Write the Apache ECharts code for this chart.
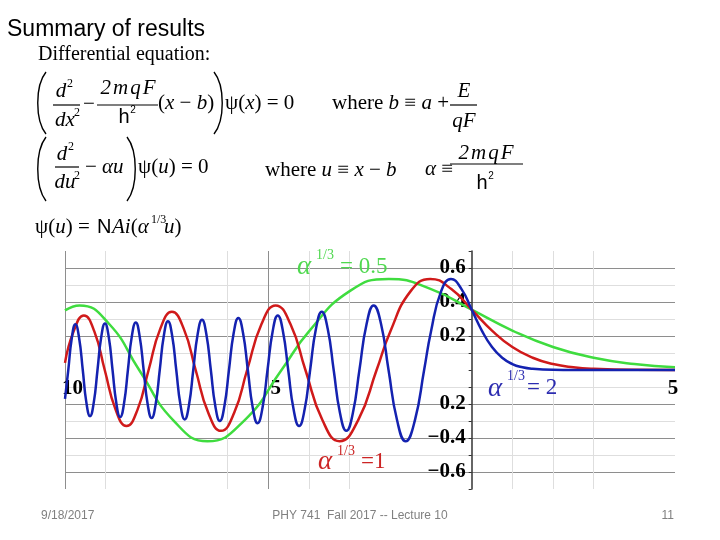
<!DOCTYPE html>
<html>
<head>
<meta charset="utf-8">
<script src="https://cdn.jsdelivr.net/npm/echarts@6/dist/echarts.min.js"></script>
<style>
html,body{margin:0;padding:0;background:#fff;}
#chart{width:720px;height:540px;}
</style>
</head>
<body>
<div id="chart"></div>
<script>
// ---- data: psi(u) for three values of alpha^(1/3) ----
const greenData = [ // alpha^(1/3) = 0.5
  [-10, 0.351], [-9.64, 0.380], [-8.908, 0.269], [-8.176, 0], [-7.336, -0.296], [-6.496, -0.419],
  [-5.586, -0.296], [-4.676, 0], [-4, 0.227], [-3, 0.464], [-2.038, 0.536], [-1, 0.476], [0, 0.355],
  [1, 0.232], [2, 0.135], [3, 0.072], [4, 0.035], [5, 0.016]
];
const redData = [ // alpha^(1/3) = 1
  [-10, 0.042], [-9.788, 0.227], [-9.535, 0.321], [-9.279, 0.227], [-9.023, 0], [-8.756, -0.233],
  [-8.489, -0.330], [-8.216, -0.233], [-7.944, 0], [-7.658, 0.242], [-7.372, 0.342], [-7.079, 0.242],
  [-6.787, 0], [-6.475, -0.253], [-6.163, -0.358], [-5.842, -0.253], [-5.521, 0], [-5.170, 0.269],
  [-4.820, 0.380], [-4.454, 0.269], [-4.088, 0], [-3.668, -0.296], [-3.248, -0.419], [-2.793, -0.296],
  [-2.338, 0], [-2, 0.227], [-1.5, 0.464], [-1.019, 0.536], [-0.5, 0.476], [0, 0.355], [0.5, 0.232],
  [1, 0.135], [1.5, 0.072], [2, 0.035], [2.5, 0.016], [3, 0.007], [4, 0.001], [5, 0]
];
const blueData = [ // alpha^(1/3) = 2
  [-10, -0.17], [-9.919, 0], [-9.832, 0.190], [-9.745, 0.269], [-9.654, 0.190], [-9.563, 0],
  [-9.474, -0.192], [-9.384, -0.271], [-9.293, -0.192], [-9.201, 0], [-9.109, 0.194], [-9.017, 0.274],
  [-8.924, 0.194], [-8.831, 0], [-8.737, -0.196], [-8.643, -0.277], [-8.548, -0.196], [-8.453, 0],
  [-8.357, 0.198], [-8.260, 0.280], [-8.164, 0.198], [-8.066, 0], [-7.968, -0.200], [-7.869, -0.283],
  [-7.770, -0.200], [-7.670, 0], [-7.569, 0.203], [-7.468, 0.287], [-7.366, 0.203], [-7.264, 0],
  [-7.160, -0.206], [-7.056, -0.291], [-6.951, -0.206], [-6.846, 0], [-6.739, 0.209], [-6.631, 0.295],
  [-6.523, 0.209], [-6.414, 0], [-6.304, -0.212], [-6.192, -0.300], [-6.080, -0.212], [-5.968, 0],
  [-5.853, 0.216], [-5.738, 0.306], [-5.621, 0.216], [-5.504, 0], [-5.384, -0.221], [-5.264, -0.313],
  [-5.142, -0.221], [-5.020, 0], [-4.894, 0.227], [-4.768, 0.321], [-4.640, 0.227], [-4.511, 0],
  [-4.378, -0.233], [-4.244, -0.330], [-4.108, -0.233], [-3.972, 0], [-3.829, 0.242], [-3.686, 0.342],
  [-3.540, 0.242], [-3.393, 0], [-3.238, -0.253], [-3.082, -0.358], [-2.921, -0.253], [-2.760, 0],
  [-2.585, 0.269], [-2.410, 0.380], [-2.227, 0.269], [-2.044, 0], [-1.834, -0.296], [-1.624, -0.419],
  [-1.396, -0.296], [-1.169, 0], [-1.0, 0.227], [-0.75, 0.464], [-0.509, 0.536], [-0.25, 0.476],
  [0, 0.355], [0.25, 0.232], [0.5, 0.135], [0.75, 0.072], [1, 0.035], [1.25, 0.016], [1.5, 0.007],
  [2, 0.001], [2.5, 0], [3, 0], [5, 0]
];
const xLabelValues = [-10, -5, 5];
const xLabelTexts = ['10', '5', '5'];
const yLabelValues = [0.6, 0.4, 0.2, -0.2, -0.4, -0.6];
const yLabelTexts = ['0.6', '0.4', '0.2', '0.2', '\u22120.4', '\u22120.6'];
const xMin = -10, xMax = 5, yMin = -0.7, yMax = 0.7;

// ---- layout / styling ----
const GRID = { left: 65, right: 45, top: 251, bottom: 51 };
const PLOT_W = 720 - GRID.left - GRID.right, PLOT_H = 540 - GRID.top - GRID.bottom;
// place axes through the origin (offset from the grid edge)
const yAxisOffset = -PLOT_W * (0 - xMin) / (xMax - xMin);
const xAxisOffset = -PLOT_H * (0 - yMin) / (yMax - yMin);

const SERIF = '"Liberation Serif","Times New Roman",serif';
const SANS = '"Liberation Sans",Arial,sans-serif';
const DARK = '#8e8e8e', LIGHT = '#dedede', NONE = 'rgba(0,0,0,0)';
// x split lines -10..5 step 1
const xGridColors = [DARK, LIGHT, NONE, NONE, LIGHT, DARK, LIGHT, LIGHT, NONE, NONE, NONE, LIGHT, LIGHT, LIGHT, NONE, NONE];
// y split lines -0.7..0.7 step 0.1
const yGridColors = [NONE, DARK, LIGHT, DARK, LIGHT, DARK, LIGHT, NONE, LIGHT, DARK, LIGHT, DARK, LIGHT, DARK, NONE];

function txt(x, y, text, o) {
  o = o || {};
  const style = {
    text: text, fill: o.fill || '#000', fontSize: o.size || 21, fontFamily: o.family || SERIF,
    fontStyle: o.italic ? 'italic' : 'normal', fontWeight: o.bold ? 'bold' : 'normal',
    align: o.align || 'left', verticalAlign: o.va || 'middle',
    textAlign: o.align || 'left', textVerticalAlign: o.va || 'middle'
  };
  if (o.rich) style.rich = o.rich;
  return { type: 'text', x: x, y: y, z: 10, silent: true, style: style };
}
function rich(size, fill, pad) {
  fill = fill || '#000';
  return {
    i: { fontStyle: 'italic', fontSize: size, fontFamily: SERIF, fill: fill, padding: pad || 0 },
    n: { fontSize: size, fontFamily: SERIF, fill: fill }
  };
}
function bar(x1, y1, x2, y2, w) {
  return { type: 'line', z: 10, silent: true, shape: { x1: x1, y1: y1, x2: x2, y2: y2 }, style: { stroke: '#000', lineWidth: w || 1.2 } };
}
function paren(x0, y0, xm, y1) {
  const h = y1 - y0;
  return { type: 'bezierCurve', z: 10, silent: true,
    shape: { x1: x0, y1: y0, cpx1: xm, cpy1: y0 + h * 0.22, cpx2: xm, cpy2: y1 - h * 0.22, x2: x0, y2: y1 },
    style: { stroke: '#000', lineWidth: 1.4, fill: null } };
}
const R21 = rich(21);
const RSP = rich(21, '#000', [0, 1, 0, 1]);

const graphics = [
  txt(7, 30, 'Summary of results', { size: 23, family: SANS }),
  txt(38, 55, 'Differential equation:', { size: 20 }),
  // equation 1
  paren(46, 72, 35, 134),
  txt(61, 91, 'd', { italic: true, align: 'center' }), txt(70, 84, '2', { size: 12, align: 'center' }),
  bar(53, 105, 80, 105),
  txt(65, 120, 'dx', { italic: true, align: 'center' }), txt(77, 113, '2', { size: 12, align: 'center' }),
  txt(89, 104, '\u2212', { align: 'center' }),
  txt(128, 88, '{i|2}{i|m}{i|q}{i|F}', { align: 'center', rich: RSP }),
  bar(97, 105, 158, 105),
  txt(124, 117, 'h', { family: SANS, size: 20, align: 'center' }), txt(133, 110, '2', { family: SANS, size: 10, align: 'center' }),
  txt(158, 103, '{n|(}{i|x}{n| \u2212 }{i|b}{n|)}', { rich: R21 }),
  paren(214, 72, 225, 134),
  txt(225, 103, '{n|\u03c8(}{i|x}{n|) = 0}', { rich: R21 }),
  txt(332, 103, '{n|where }{i|b}{n| \u2261 }{i|a}{n| +}', { rich: R21 }),
  txt(464, 91, 'E', { italic: true, align: 'center' }),
  bar(450, 105, 477, 105),
  txt(464, 121, 'qF', { italic: true, align: 'center' }),
  // equation 2
  paren(46, 137, 35, 201),
  txt(62, 154, 'd', { italic: true, align: 'center' }), txt(71, 147, '2', { size: 12, align: 'center' }),
  bar(55, 167, 79, 167),
  txt(65, 182, 'du', { italic: true, align: 'center' }), txt(77, 176, '2', { size: 12, align: 'center' }),
  txt(85, 167, '{n|\u2212 }{i|\u03b1u}', { rich: R21 }),
  paren(127, 137, 138, 201),
  txt(138, 167, '{n|\u03c8(}{i|u}{n|) = 0}', { rich: R21 }),
  txt(265, 170, '{n|where }{i|u}{n| \u2261 }{i|x}{n| \u2212 }{i|b}', { rich: R21 }),
  txt(425, 169, '{i|\u03b1}{n| \u2261}', { rich: R21 }),
  txt(486, 153, '{i|2}{i|m}{i|q}{i|F}', { align: 'center', rich: RSP }),
  bar(450, 164, 523, 164),
  txt(482, 183, 'h', { family: SANS, size: 20, align: 'center' }), txt(491, 176, '2', { family: SANS, size: 10, align: 'center' }),
  // equation 3
  txt(35, 227, '{n|\u03c8(}{i|u}{n|) = }', { rich: R21 }),
  txt(97, 227, 'N', { family: SANS, size: 20 }),
  txt(112, 227, '{i|Ai}{n|(}{i|\u03b1}', { rich: R21 }),
  txt(151, 220, '1/3', { size: 12 }),
  txt(164, 227, '{i|u}{n|)}', { rich: R21 }),
  // curve annotations
  txt(297, 267, '\u03b1', { italic: true, size: 27, fill: '#4fd84f' }),
  txt(316, 255, '1/3', { size: 14, fill: '#4fd84f' }),
  txt(340, 267, '= 0.5', { size: 23, fill: '#4fd84f' }),
  txt(318, 462, '\u03b1', { italic: true, size: 27, fill: '#cc2424' }),
  txt(337, 451, '1/3', { size: 14, fill: '#cc2424' }),
  txt(361, 462, '=1', { size: 23, fill: '#cc2424' }),
  txt(488, 389, '\u03b1', { italic: true, size: 27, fill: '#2c2cb0' }),
  txt(507, 376, '1/3', { size: 14, fill: '#2c2cb0' }),
  txt(527, 388, '= 2', { size: 23, fill: '#2c2cb0' }),
  // footer
  txt(41, 516, '9/18/2017', { family: SANS, size: 12, fill: '#808080' }),
  txt(360, 516, 'PHY 741  Fall 2017 -- Lecture 10', { family: SANS, size: 12, fill: '#808080', align: 'center' }),
  txt(674, 516, '11', { family: SANS, size: 12, fill: '#808080', align: 'right' })
];

function xLabel(v) {
  const k = xLabelValues.findIndex(t => Math.abs(t - v) < 1e-6);
  if (k < 0) return '';
  return (v < 0 ? '{p|' : '{q|') + xLabelTexts[k] + '}';
}
function yLabel(v) {
  const k = yLabelValues.findIndex(t => Math.abs(t - v) < 1e-6);
  return k < 0 ? '' : yLabelTexts[k];
}
const labelFont = { fontFamily: SERIF, fontWeight: 'bold', fontSize: 21, color: '#000' };

const chart = echarts.init(document.getElementById('chart'), null, { renderer: 'canvas' });
chart.setOption({
  animation: false,
  backgroundColor: '#fff',
  grid: { left: GRID.left, right: GRID.right, top: GRID.top, bottom: GRID.bottom, containLabel: false, outerBoundsMode: 'none' },
  xAxis: {
    type: 'value', min: xMin, max: xMax, interval: 1, position: 'bottom', offset: xAxisOffset,
    axisLine: { show: false, onZero: false },
    axisTick: { show: false },
    axisLabel: {
      show: true, margin: 8, showMinLabel: true, showMaxLabel: true, hideOverlap: false,
      formatter: xLabel,
      rich: {
        p: Object.assign({ padding: [0, 0, 0, 15] }, labelFont),
        q: Object.assign({ padding: [0, 4, 0, 0] }, labelFont)
      }
    },
    splitLine: { show: true, showMinLine: true, showMaxLine: true, lineStyle: { color: xGridColors, width: 1 } }
  },
  yAxis: {
    type: 'value', min: yMin, max: yMax, interval: 0.1, position: 'left', offset: yAxisOffset,
    axisLine: { show: true, onZero: false, lineStyle: { color: '#333', width: 1.5 } },
    axisTick: { show: true, length: 3, inside: false, lineStyle: { color: '#333' } },
    axisLabel: Object.assign({ show: true, margin: 6, formatter: yLabel, showMinLabel: true, showMaxLabel: true, hideOverlap: false }, labelFont),
    splitLine: { show: true, showMinLine: true, showMaxLine: true, lineStyle: { color: yGridColors, width: 1 } }
  },
  series: [
    { name: 'a=0.5', type: 'line', data: greenData, smooth: true, showSymbol: false, symbol: 'none',
      lineStyle: { color: '#3fdc3f', width: 2.5 }, itemStyle: { color: '#3fdc3f' }, z: 2 },
    { name: 'a=1', type: 'line', data: redData, smooth: true, showSymbol: false, symbol: 'none',
      lineStyle: { color: '#d01a1a', width: 2.5 }, itemStyle: { color: '#d01a1a' }, z: 3 },
    { name: 'a=2', type: 'line', data: blueData, smooth: true, showSymbol: false, symbol: 'none',
      lineStyle: { color: '#1422b0', width: 2.5 }, itemStyle: { color: '#1422b0' }, z: 4 }
  ],
  graphic: { elements: graphics }
});
</script>
</body>
</html>
